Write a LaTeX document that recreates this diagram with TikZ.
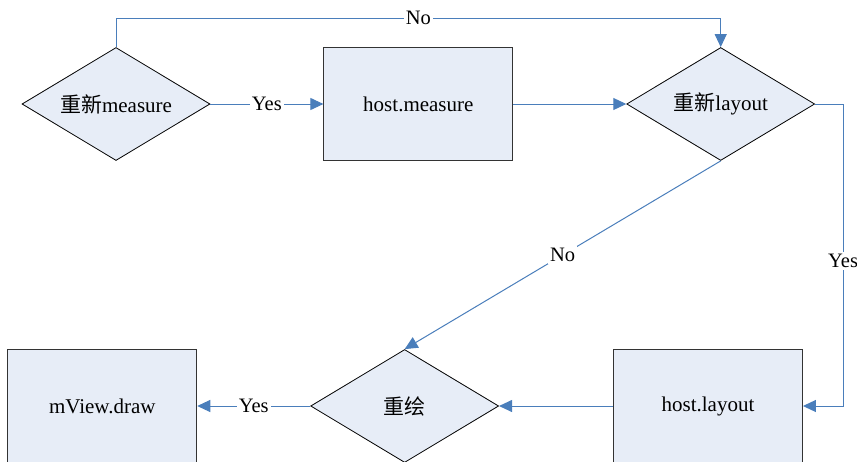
\documentclass[tikz,border=0pt]{standalone}
\usepackage{fontspec}
\setmainfont{Liberation Serif}
\newfontfamily\cjk{Noto Sans CJK SC}
\usetikzlibrary{arrows.meta,positioning,shapes.geometric}
\definecolor{boxfill}{HTML}{E7EDF7}
\definecolor{flowblue}{HTML}{4A7EBB}
\tikzset{
  block/.style={draw=black!80,fill=boxfill,line width=0.9pt,minimum width=189pt,minimum height=113pt,align=center,font=\fontsize{21}{24}\selectfont},
  decision/.style={diamond,draw=black,fill=boxfill,line width=0.8pt,aspect=1.66,inner sep=0pt,minimum width=188pt,minimum height=113pt,align=center,font=\fontsize{21}{24}\selectfont},
  flow/.style={draw=flowblue,line width=1pt,-{Triangle[length=13pt,width=12pt]}},
  tag/.style={fill=white,inner sep=2pt,font=\fontsize{20.5}{24}\selectfont}
}

\begin{document}
\begin{tikzpicture}[x=1pt,y=-1pt,node distance=113pt]
  \path[use as bounding box,clip] (0,0) rectangle (857,461);
  \node[decision] (remeasure) at (116,104) {{\cjk 重新}measure};
  \node[block,right=113pt of remeasure] (hostmeasure) {host.measure};
  \node[decision,right=113pt of hostmeasure] (relayout) {{\cjk 重新}layout};
  \node[block] (hostlayout) at (708,406) {host.layout};
  \node[decision,left=114pt of hostlayout] (redraw) {\cjk 重绘};
  \node[block,left=113pt of redraw] (viewdraw) {mView.draw};
  \draw[flow] (remeasure.north) -- ++(0,-29) -| node[pos=0.25,tag] {No} (relayout.north);
  \draw[flow] (remeasure) -- node[tag] {Yes} (hostmeasure);
  \draw[flow] (hostmeasure) -- (relayout);
  \draw[flow] (relayout.east) -- ++(28,0) |- node[pos=0.26,tag] {Yes} (hostlayout.east);
  \draw[flow] (relayout.south) -- node[tag] {No} (redraw.north);
  \draw[flow] (hostlayout) -- (redraw);
  \draw[flow] (redraw) -- node[tag] {Yes} (viewdraw);
\end{tikzpicture}
\end{document}
